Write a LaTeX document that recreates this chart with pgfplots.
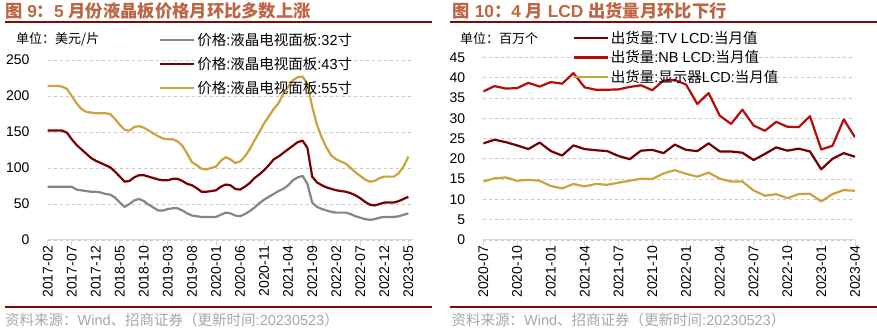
\documentclass[border=0pt]{standalone}
\usepackage{fontspec}
\setmainfont{Liberation Sans}
\newfontfamily\lat{Liberation Sans}
\newfontfamily\cjk{Noto Sans CJK SC}
\usepackage{pgfplots}
\usepackage{pgfplotstable}
\pgfplotsset{compat=1.18}
\definecolor{titlecol}{RGB}{190,102,68}
\definecolor{rulecol}{RGB}{128,10,10}
\definecolor{srccol}{RGB}{166,166,166}
\definecolor{cgray}{RGB}{133,133,133}
\definecolor{cmaroon}{RGB}{120,0,0}
\definecolor{cgold}{RGB}{201,163,60}
\definecolor{ctv}{RGB}{115,0,0}
\definecolor{cnb}{RGB}{185,10,10}
\definecolor{axcol}{RGB}{217,217,217}
\definecolor{gridcol}{RGB}{200,200,200}

\pgfplotstableread{
g r y
74 152 214
74 152 214
74 152 214
74 152 213
74 149 210
74 140 200
70 132 190
69 126 182
68 120 178
67 114 177
67 110 176
66 107 176
64 104 176
63 101 175
59 95 168
52 88 160
46 81 153
50 82 152
55 87 157
57 90 158
54 90 156
49 88 152
45 86 148
41 84 144
41 83 141
43 83 140
44 85 140
44 85 137
41 82 131
37 78 120
34 76 108
33 72 104
32 67 99
32 67 98
32 68 100
32 69 102
35 74 110
38 77 115
37 76 112
34 71 107
33 70 109
36 74 116
40 79 126
45 86 138
51 91 150
56 97 162
60 104 172
64 112 182
68 116 190
71 121 203
76 126 213
83 131 222
87 136 226
89 138 227
78 128 217
52 88 185
46 80 160
43 76 142
41 73 128
39 71 117
38 69 112
38 68 109
38 67 106
36 65 100
33 62 94
31 58 89
29 53 84
28 49 81
29 48 82
31 50 86
32 52 88
32 52 88
32 52 88
33 54 93
35 57 102
37 60 116
}\leftdata

\pgfplotstableread{
t n d
23.8 36.6 14.4
24.7 37.9 15.2
24.1 37.3 15.4
23.3 37.4 14.6
22.4 38.7 14.8
24.0 37.8 14.6
21.9 38.9 13.3
20.8 38.5 12.7
23.3 41.1 13.8
22.4 37.6 13.2
22.1 37.0 13.8
21.9 37.0 13.6
20.7 37.1 14.1
19.9 37.7 14.6
22.0 38.1 15.1
22.2 36.9 15.0
21.4 39.3 16.4
23.5 39.4 17.2
22.2 38.3 16.3
21.9 33.5 15.6
23.8 36.2 16.6
21.8 30.6 15.1
21.8 28.6 14.4
21.5 32.1 14.4
19.7 28.2 12.2
21.2 26.9 10.9
22.8 29.1 11.3
22.0 27.9 10.3
22.5 27.8 11.3
21.8 30.5 11.4
17.4 22.3 9.5
20.0 23.2 11.3
21.4 29.7 12.3
20.5 25.3 12.1
}\rightdata

\pgfplotsset{
  mystyle/.style={
    scale only axis,
    /pgf/number format/assume math mode=true,
    axis x line*=bottom,
    axis y line*=left,
    x axis line style={draw=axcol, line width=1pt, -},
    y axis line style={draw=none},
    tick align=outside,
    major tick length=6pt,
    xtick style={draw=axcol, line width=1pt},
    ytick style={draw=none},
    ymajorgrids,
    grid style={draw=gridcol, line width=0.8pt, dash pattern=on 3pt off 3pt},
    tick label style={font=\lat\fontsize{14}{14}\selectfont, text=black},
    xticklabel style={rotate=90, anchor=east, inner sep=0pt},
    yticklabel style={anchor=east, inner sep=0pt},
    legend cell align=left,
    legend image code/.code={\draw[##1] (0pt,0pt) -- (34pt,0pt);},
    every axis plot/.append style={line width=2.2pt, line join=round},
  }
}

\begin{document}
\begin{tikzpicture}
\useasboundingbox (0pt,0pt) rectangle (877pt,329pt);

% titles
\node[anchor=west, inner sep=0, text=titlecol] at (5pt,318.5pt)
 {\bfseries\fontsize{17.3}{17.3}\selectfont\cjk 图\lat\ 9\cjk ：\lat 5 \cjk 月份液晶板价格月环比多数上涨};
\node[anchor=west, inner sep=0, text=titlecol] at (452.5pt,318.5pt)
 {\bfseries\fontsize{17.3}{17.3}\selectfont\cjk 图\lat\ 10\cjk ：\lat 4 \cjk 月\lat\ LCD \cjk 出货量月环比下行};
\draw[rulecol, line width=1.3pt] (5pt,307pt) -- (432pt,307pt);
\draw[rulecol, line width=1.3pt] (450pt,307pt) -- (877pt,307pt);
\draw[rulecol, line width=1.6pt] (5pt,22pt) -- (432pt,22pt);
\draw[rulecol, line width=1.6pt] (450pt,22pt) -- (877pt,22pt);
\node[anchor=west, inner sep=0, text=srccol] at (5pt,9pt)
 {\fontsize{14.5}{14.5}\selectfont\cjk 资料来源：\lat Wind\cjk 、招商证券（更新时间\lat :20230523\cjk ）};
\node[anchor=west, inner sep=0, text=srccol] at (451.5pt,9pt)
 {\fontsize{14.5}{14.5}\selectfont\cjk 资料来源：\lat Wind\cjk 、招商证券（更新时间\lat :20230523\cjk ）};
\node[anchor=west, inner sep=0] at (16pt,290pt)
 {\fontsize{13}{13}\selectfont\cjk 单位：美元/片};
\node[anchor=west, inner sep=0] at (460pt,290pt)
 {\fontsize{13}{13}\selectfont\cjk 单位：百万个};

\begin{axis}[mystyle,
  at={(47.7pt,89pt)}, anchor=south west,
  width=365pt, height=180pt,
  xmin=0, xmax=75.9, ymin=0, ymax=250,
  ytick={0,50,...,250},
  xtick={0,5,...,75},
  xticklabels={2017-02,2017-07,2017-12,2018-05,2018-10,2019-03,2019-08,2020-01,2020-06,2020-11,2021-04,2021-09,2022-02,2022-07,2022-12,2023-05},
  yticklabel shift=12pt,
  legend style={at={(axis description cs:0.305,1.16)}, anchor=north west,
    draw=none, fill=none, inner sep=0pt, row sep=6pt,
    font=\fontsize{14.5}{14.5}\selectfont},
]
\addplot[cgray] table[x expr=\coordindex, y=g] {\leftdata};
\addlegendentry{\cjk 价格\lat :\cjk 液晶电视面板\lat :32\cjk 寸}
\addplot[cmaroon] table[x expr=\coordindex, y=r] {\leftdata};
\addlegendentry{\cjk 价格\lat :\cjk 液晶电视面板\lat :43\cjk 寸}
\addplot[cgold] table[x expr=\coordindex, y=y] {\leftdata};
\addlegendentry{\cjk 价格\lat :\cjk 液晶电视面板\lat :55\cjk 寸}
\end{axis}

\begin{axis}[mystyle,
  at={(483.3pt,89pt)}, anchor=south west,
  width=371.7pt, height=182.7pt,
  xmin=0, xmax=33, ymin=0, ymax=45,
  ytick={0,5,...,45},
  xtick={0,3,...,33},
  xticklabels={2020-07,2020-10,2021-01,2021-04,2021-07,2021-10,2022-01,2022-04,2022-07,2022-10,2023-01,2023-04},
  yticklabel shift=12pt,
  legend style={at={(axis description cs:0.24,1.157)}, anchor=north west,
    draw=none, fill=none, inner sep=0pt, row sep=2pt,
    font=\fontsize{14.5}{14.5}\selectfont},
]
\addplot[ctv] table[x expr=\coordindex, y=t] {\rightdata};
\addlegendentry{\cjk 出货量\lat :TV LCD:\cjk 当月值}
\addplot[cnb] table[x expr=\coordindex, y=n] {\rightdata};
\addlegendentry{\cjk 出货量\lat :NB LCD:\cjk 当月值}
\addplot[cgold] table[x expr=\coordindex, y=d] {\rightdata};
\addlegendentry{\cjk 出货量\lat :\cjk 显示器\lat LCD:\cjk 当月值}
\end{axis}
\end{tikzpicture}
\end{document}
